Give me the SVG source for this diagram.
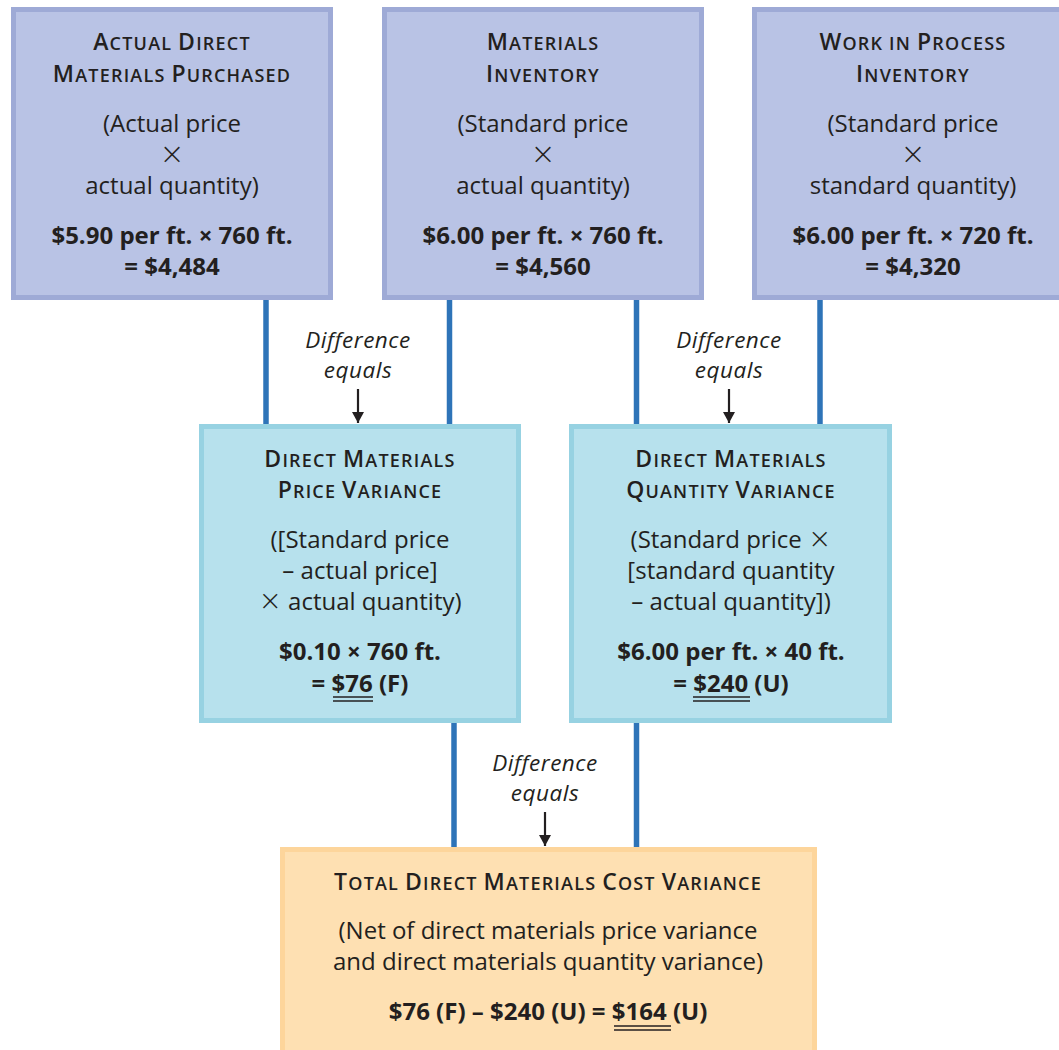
<svg xmlns="http://www.w3.org/2000/svg" width="1059" height="1050" viewBox="0 0 1059 1050">
<defs>
<style>
.bg{fill:#ffffff}
.top{fill:#b9c3e5;stroke:#9eaad6;stroke-width:5}
.mid{fill:#b7e1ed;stroke:#97d2e2;stroke-width:5}
.bot{fill:#fee0b2;stroke:#fdd59b;stroke-width:5}
.conn{stroke:#2e74b8;stroke-width:5.5;fill:none}
.arr{stroke:#231f20;stroke-width:2.2;fill:none}
text{font-family:"Open Sans","Liberation Sans",sans-serif;fill:#231f20;text-anchor:middle}
.ti{font-size:23px;font-weight:600;letter-spacing:1.2px}
.s{font-size:18px}
.r{font-size:24px}
.x{font-family:"DejaVu Sans",sans-serif;font-size:30px;font-weight:200}
.xm{font-family:"DejaVu Sans",sans-serif;font-size:28px;font-weight:200}
.bd{font-size:24px;font-weight:700}
.it{font-size:22.5px;font-style:italic;letter-spacing:0.5px}
.ul{stroke:#231f20;stroke-width:1.6}
</style>
<marker id="ah" viewBox="0 0 11 12" refX="11" refY="6" markerWidth="11" markerHeight="12" markerUnits="userSpaceOnUse" orient="auto">
<path d="M0,0 L11,6 L0,12 z" fill="#231f20"/>
</marker>
</defs>
<rect class="bg" x="0" y="0" width="1059" height="1050"/>

<g id="connectors">
<line class="conn" x1="266" y1="298" x2="266" y2="426"/>
<line class="conn" x1="449.5" y1="298" x2="449.5" y2="426"/>
<line class="conn" x1="636.5" y1="298" x2="636.5" y2="426"/>
<line class="conn" x1="820" y1="298" x2="820" y2="426"/>
<line class="conn" x1="454" y1="721" x2="454" y2="849"/>
<line class="conn" x1="636.5" y1="721" x2="636.5" y2="849"/>
<line class="arr" x1="358" y1="389" x2="358" y2="423" marker-end="url(#ah)"/>
<line class="arr" x1="729" y1="389" x2="729" y2="423" marker-end="url(#ah)"/>
<line class="arr" x1="545" y1="812" x2="545" y2="846" marker-end="url(#ah)"/>
<text class="it" x="358" y="348">Difference</text>
<text class="it" x="358" y="378">equals</text>
<text class="it" x="729" y="348">Difference</text>
<text class="it" x="729" y="378">equals</text>
<text class="it" x="545" y="771">Difference</text>
<text class="it" x="545" y="801">equals</text>
</g>

<g id="actual-purchased">
<rect class="top" x="13.5" y="9.5" width="317" height="288"/>
<text class="ti" x="172" y="50">A<tspan class="s">CTUAL </tspan>D<tspan class="s">IRECT</tspan></text>
<text class="ti" x="172" y="82">M<tspan class="s">ATERIALS </tspan>P<tspan class="s">URCHASED</tspan></text>
<text class="r" x="172" y="132">(Actual price</text>
<text class="x" x="172" y="164">×</text>
<text class="r" x="172" y="194">actual quantity)</text>
<text class="bd" x="172" y="244">$5.90 per ft. × 760 ft.<tspan x="172" dy="31">= $4,484</tspan></text>
</g>

<g id="materials-inventory">
<rect class="top" x="384.5" y="9.5" width="317" height="288"/>
<text class="ti" x="543" y="50">M<tspan class="s">ATERIALS</tspan></text>
<text class="ti" x="543" y="82">I<tspan class="s">NVENTORY</tspan></text>
<text class="r" x="543" y="132">(Standard price</text>
<text class="x" x="543" y="164">×</text>
<text class="r" x="543" y="194">actual quantity)</text>
<text class="bd" x="543" y="244">$6.00 per ft. × 760 ft.<tspan x="543" dy="31">= $4,560</tspan></text>
</g>

<g id="wip-inventory">
<rect class="top" x="754.5" y="9.5" width="330" height="288"/>
<text class="ti" x="913" y="50">W<tspan class="s">ORK IN </tspan>P<tspan class="s">ROCESS</tspan></text>
<text class="ti" x="913" y="82">I<tspan class="s">NVENTORY</tspan></text>
<text class="r" x="913" y="132">(Standard price</text>
<text class="x" x="913" y="164">×</text>
<text class="r" x="913" y="194">standard quantity)</text>
<text class="bd" x="913" y="244">$6.00 per ft. × 720 ft.<tspan x="913" dy="31">= $4,320</tspan></text>
</g>

<g id="price-variance">
<rect class="mid" x="201.5" y="426.5" width="317" height="294"/>
<text class="ti" x="360" y="467">D<tspan class="s">IRECT </tspan>M<tspan class="s">ATERIALS</tspan></text>
<text class="ti" x="360" y="498">P<tspan class="s">RICE </tspan>V<tspan class="s">ARIANCE</tspan></text>
<text class="r" x="360" y="548">([Standard price<tspan x="360" dy="31">– actual price]</tspan><tspan class="xm" x="360" dy="31">×</tspan><tspan> actual quantity)</tspan></text>
<text class="bd" x="360" y="660">$0.10 × 760 ft.<tspan x="360" dy="32">= $76 (F)</tspan></text>
<line class="ul" x1="333" y1="697" x2="373" y2="697"/>
<line class="ul" x1="333" y1="701" x2="373" y2="701"/>
</g>

<g id="quantity-variance">
<rect class="mid" x="571.5" y="426.5" width="318" height="294"/>
<text class="ti" x="731" y="467">D<tspan class="s">IRECT </tspan>M<tspan class="s">ATERIALS</tspan></text>
<text class="ti" x="731" y="498">Q<tspan class="s">UANTITY </tspan>V<tspan class="s">ARIANCE</tspan></text>
<text class="r" x="731" y="548">(Standard price <tspan class="xm">×</tspan><tspan x="731" dy="31">[standard quantity</tspan><tspan x="731" dy="31">– actual quantity])</tspan></text>
<text class="bd" x="731" y="660">$6.00 per ft. × 40 ft.<tspan x="731" dy="32">= $240 (U)</tspan></text>
<line class="ul" x1="693" y1="697" x2="750" y2="697"/>
<line class="ul" x1="693" y1="701" x2="750" y2="701"/>
</g>

<g id="total-variance">
<rect class="bot" x="282.5" y="849.5" width="532" height="220"/>
<text class="ti" x="548" y="890">T<tspan class="s">OTAL </tspan>D<tspan class="s">IRECT </tspan>M<tspan class="s">ATERIALS </tspan>C<tspan class="s">OST </tspan>V<tspan class="s">ARIANCE</tspan></text>
<text class="r" x="548" y="939">(Net of direct materials price variance<tspan x="548" dy="31">and direct materials quantity variance)</tspan></text>
<text class="bd" x="548" y="1020">$76 (F) – $240 (U) = $164 (U)</text>
<line class="ul" x1="614" y1="1026" x2="671" y2="1026"/>
<line class="ul" x1="614" y1="1030" x2="671" y2="1030"/>
</g>
</svg>
